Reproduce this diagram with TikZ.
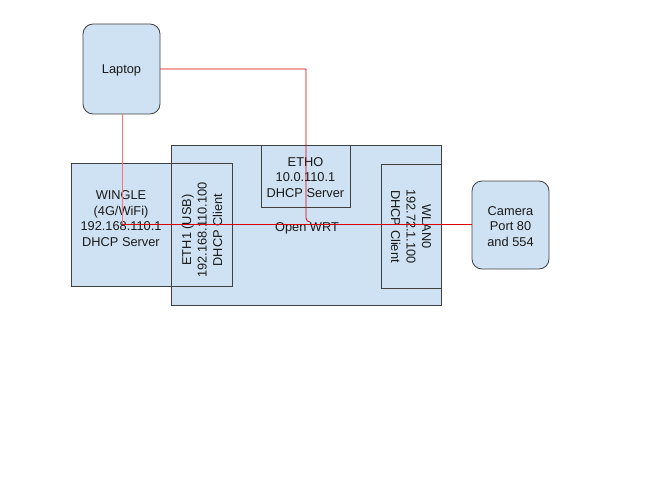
\documentclass[tikz,border=0pt]{standalone}
\usepackage{fontspec}
\setmainfont{Liberation Sans}
\begin{document}
\begin{tikzpicture}[x=1pt,y=-1pt,
  box/.style={draw=black!75, fill=boxblue, line width=0.8pt, inner sep=0pt, outer sep=0pt},
  rbox/.style={box, rounded corners=10pt},
  lbl/.style={font=\fontsize{12.8}{15.5}\selectfont, align=center, text=black!90},
  wire/.style={draw=red!85!black, line width=0.8pt},
  wirelight/.style={draw=red!55, line width=0.9pt}]
\definecolor{boxblue}{HTML}{CFE2F3}
\useasboundingbox (0,0) rectangle (666,500);
% Open WRT main box
\node[box, minimum width=270pt, minimum height=160pt, anchor=north west] (owrt) at (171,145) {};
\node[lbl] (owrtlbl) at (307,228) {Open WRT};
% WINGLE
\node[box, minimum width=100pt, minimum height=123pt, anchor=north west] (wingle) at (71,163) {};
\node[lbl] (winglet) at (121,218.5) {WINGLE\\(4G/WiFi)\\192.168.110.1\\DHCP Server};
% ETH1
\node[box, minimum width=61pt, minimum height=123pt, anchor=north west] (eth1) at (171,163) {};
\node[lbl, rotate=90] (eth1t) at (202,230) {ETH1 (USB)\\192.168.110.100\\DHCP Client};
% ETH0
\node[box, minimum width=89pt, minimum height=62pt, anchor=north west] (eth0) at (261,145) {};
\node[lbl] (eth0t) at (305.5,177.5) {ETHO\\10.0.110.1\\DHCP Server};
% WLAN0
\node[box, minimum width=60pt, minimum height=124pt, anchor=north west] (wlan0) at (381,164) {};
\node[lbl, rotate=-90] (wlan0t) at (411,226.5) {WLAN0\\192.72.1.100\\DHCP Client};
% Laptop
\node[rbox, minimum width=77pt, minimum height=90pt, anchor=north west] (laptop) at (83,24) {};
\node[lbl] (laptopt) at (121.5,70) {Laptop};
% Camera
\node[rbox, minimum width=77pt, minimum height=88pt, anchor=north west] (camera) at (472,181) {};
\node[lbl] (camerat) at (510.5,226.5) {Camera\\Port 80\\and 554};
% wires
\coordinate (bend1) at (122,224);
\coordinate (camin) at (472,224);
\coordinate (eth0end) at (310,222);
\coordinate (eth0turn) at (306,69);
\draw[wirelight] (laptop.south -| bend1) -- (bend1);
\draw[wire] (bend1) -- (camin);
\draw[wire] (laptop.east |- eth0turn) -- (eth0turn) -- (306,218) to[out=-90,in=180] (eth0end);
\end{tikzpicture}
\end{document}
